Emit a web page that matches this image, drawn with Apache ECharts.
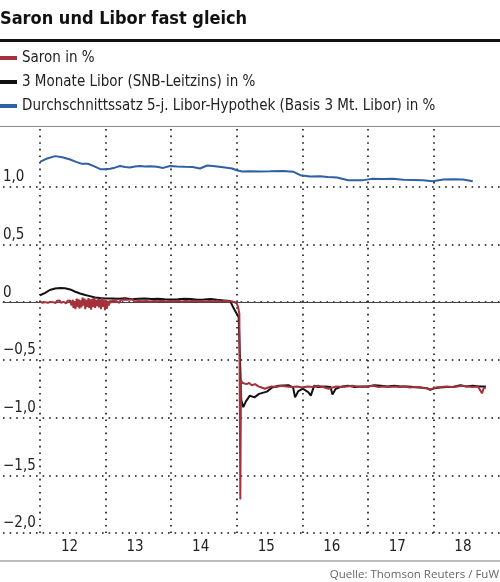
<!DOCTYPE html>
<html><head><meta charset="utf-8">
<script src="https://cdn.jsdelivr.net/npm/echarts@6/dist/echarts.min.js"></script>
<style>html,body{margin:0;padding:0;background:#fff}#c{width:500px;height:582px}</style>
</head><body><div id="c"></div>
<script>
const titleText = 'Saron und Libor fast gleich';
const sourceText = 'Quelle: Thomson Reuters / FuW';
const seriesNames = ['Saron in %', '3 Monate Libor (SNB-Leitzins) in %', 'Durchschnittssatz 5-j. Libor-Hypothek (Basis 3 Mt. Libor) in %'];
const yTicks = [1.0, 0.5, 0, -0.5, -1.0, -1.5, -2.0];
const xLabelYears = [2012, 2013, 2014, 2015, 2016, 2017, 2018];

// [decimal year, %]
const hypothek = [
 [2012.00,1.215],[2012.11,1.245],[2012.23,1.265],[2012.34,1.255],[2012.46,1.236],[2012.55,1.215],
 [2012.64,1.198],[2012.73,1.199],[2012.82,1.178],[2012.92,1.152],[2012.99,1.152],[2013.07,1.155],
 [2013.14,1.165],[2013.22,1.180],[2013.30,1.170],[2013.37,1.167],[2013.45,1.175],[2013.53,1.180],
 [2013.60,1.175],[2013.68,1.178],[2013.78,1.172],[2013.88,1.163],[2013.98,1.180],[2014.09,1.176],
 [2014.21,1.172],[2014.33,1.170],[2014.44,1.158],[2014.55,1.184],[2014.67,1.178],[2014.82,1.167],
 [2014.93,1.158],[2015.00,1.143],[2015.08,1.132],[2015.20,1.135],[2015.36,1.132],[2015.51,1.133],
 [2015.71,1.137],[2015.86,1.130],[2015.97,1.100],[2016.12,1.088],[2016.27,1.090],[2016.39,1.084],
 [2016.53,1.080],[2016.70,1.056],[2016.82,1.056],[2016.93,1.057],[2017.06,1.068],[2017.23,1.067],
 [2017.38,1.068],[2017.54,1.060],[2017.69,1.058],[2017.84,1.056],[2017.99,1.048],[2018.15,1.062],
 [2018.30,1.064],[2018.45,1.062],[2018.60,1.048]
];

const libor = [
 [2012.00,0.060],[2012.08,0.080],[2012.15,0.105],[2012.23,0.118],[2012.31,0.122],[2012.38,0.120],
 [2012.46,0.110],[2012.53,0.092],[2012.61,0.075],[2012.69,0.062],[2012.76,0.052],[2012.84,0.040],
 [2012.92,0.035],[2012.99,0.032],[2013.10,0.032],[2013.20,0.030],[2013.30,0.033],[2013.40,0.025],
 [2013.50,0.030],[2013.60,0.032],[2013.70,0.028],[2013.80,0.030],[2013.90,0.025],[2014.00,0.022],
 [2014.10,0.025],[2014.20,0.030],[2014.30,0.028],[2014.40,0.020],[2014.50,0.022],[2014.60,0.028],
 [2014.70,0.020],[2014.80,0.015],[2014.90,0.010],[2014.96,-0.060],[2015.00,-0.100],[2015.03,-0.130],
 [2015.05,-0.500],[2015.07,-0.850],[2015.10,-0.910],[2015.14,-0.860],[2015.20,-0.810],[2015.27,-0.825],
 [2015.34,-0.795],[2015.46,-0.775],[2015.54,-0.740],[2015.64,-0.725],[2015.79,-0.720],[2015.86,-0.740],
 [2015.89,-0.825],[2015.94,-0.770],[2016.01,-0.750],[2016.09,-0.780],[2016.13,-0.810],[2016.18,-0.725],
 [2016.24,-0.735],[2016.34,-0.730],[2016.43,-0.735],[2016.46,-0.800],[2016.51,-0.750],[2016.61,-0.730],
 [2016.70,-0.725],[2016.80,-0.735],[2016.90,-0.730],[2017.00,-0.730],[2017.10,-0.720],[2017.20,-0.725],
 [2017.30,-0.730],[2017.40,-0.725],[2017.50,-0.730],[2017.60,-0.730],[2017.70,-0.735],[2017.80,-0.740],
 [2017.90,-0.745],[2017.95,-0.760],[2018.02,-0.745],[2018.10,-0.740],[2018.20,-0.735],[2018.30,-0.735],
 [2018.41,-0.720],[2018.50,-0.730],[2018.60,-0.725],[2018.70,-0.730],[2018.80,-0.730]
];

const saron = [
 [2012.00,0.005],[2012.02,0.015],[2012.04,-0.005],[2012.06,0.010],[2012.08,0.000],[2012.10,0.015],
 [2012.12,-0.005],[2012.14,0.012],[2012.16,0.002],[2012.18,0.018],[2012.20,0.000],[2012.22,0.010],
 [2012.24,-0.008],[2012.26,0.012],[2012.28,0.000],[2012.30,0.015],[2012.32,-0.005],[2012.34,0.010],
 [2012.36,0.002],[2012.38,0.018],[2012.40,-0.010],[2012.42,0.012],[2012.44,-0.005],[2012.46,0.015],
 [2012.48,-0.030],[2012.50,0.020],[2012.51,-0.050],[2012.53,0.010],[2012.54,-0.060],[2012.56,0.030],
 [2012.57,-0.040],[2012.59,0.025],[2012.60,-0.055],[2012.62,0.015],[2012.63,-0.045],[2012.65,0.040],
 [2012.66,-0.030],[2012.68,0.030],[2012.69,-0.060],[2012.71,0.020],[2012.72,-0.040],[2012.74,0.035],
 [2012.75,-0.050],[2012.77,0.025],[2012.78,-0.065],[2012.80,0.030],[2012.81,-0.040],[2012.83,0.040],
 [2012.84,-0.050],[2012.86,0.020],[2012.87,-0.035],[2012.89,0.030],[2012.90,-0.045],[2012.92,0.025],
 [2012.93,-0.060],[2012.95,0.035],[2012.96,-0.040],[2012.98,0.020],[2012.99,-0.070],[2013.01,0.015],
 [2013.02,-0.055],[2013.04,0.010],[2013.05,-0.030],[2013.07,0.015],[2013.09,-0.005],[2013.11,0.020],
 [2013.13,0.000],[2013.15,0.025],[2013.17,0.005],[2013.19,0.020],[2013.21,-0.005],[2013.23,0.018],
 [2013.26,0.008],[2013.29,0.022],[2013.32,0.005],[2013.35,0.020],[2013.38,0.010],[2013.41,0.025],
 [2013.44,0.005],[2013.47,0.020],[2013.50,0.010],[2013.53,0.022],[2013.56,0.008],[2013.59,0.025],
 [2013.62,0.010],[2013.65,0.020],[2013.68,0.005],[2013.71,0.022],[2013.74,0.010],[2013.77,0.025],
 [2013.80,0.008],[2013.83,0.018],[2013.86,0.012],[2013.89,0.025],[2013.92,0.005],[2013.95,0.020],
 [2013.98,0.010],[2014.01,0.022],[2014.04,0.008],[2014.07,0.020],[2014.10,0.012],[2014.13,0.025],
 [2014.16,0.005],[2014.19,0.018],[2014.22,0.010],[2014.25,0.022],[2014.28,0.008],[2014.31,0.020],
 [2014.34,0.012],[2014.37,0.025],[2014.40,0.008],[2014.43,0.020],[2014.46,0.010],[2014.49,0.022],
 [2014.52,0.005],[2014.55,0.018],[2014.58,0.010],[2014.61,0.025],[2014.64,0.008],[2014.67,0.020],
 [2014.70,0.012],[2014.73,0.022],[2014.76,0.005],[2014.79,0.018],[2014.82,0.010],[2014.85,0.020],
 [2014.88,0.008],[2014.91,0.015],[2014.94,0.005],[2014.97,0.010],[2015.00,-0.010],[2015.02,-0.040],
 [2015.04,-0.100],[2015.055,-1.710],[2015.065,-0.680],[2015.09,-0.700],
 [2015.12,-0.690],[2015.15,-0.710],[2015.19,-0.700],[2015.23,-0.720],[2015.28,-0.710],[2015.33,-0.730],
 [2015.38,-0.740],[2015.43,-0.750],[2015.48,-0.740],[2015.53,-0.730],[2015.60,-0.735],[2015.68,-0.725],
 [2015.76,-0.730],[2015.84,-0.735],[2015.92,-0.730],[2016.00,-0.740],[2016.08,-0.730],[2016.16,-0.735],
 [2016.24,-0.725],[2016.32,-0.735],[2016.40,-0.750],[2016.46,-0.740],[2016.52,-0.730],[2016.60,-0.735],
 [2016.68,-0.730],[2016.76,-0.725],[2016.84,-0.730],[2016.92,-0.735],[2017.00,-0.730],[2017.08,-0.725],
 [2017.16,-0.735],[2017.24,-0.730],[2017.32,-0.735],[2017.40,-0.730],[2017.48,-0.735],[2017.56,-0.730],
 [2017.64,-0.740],[2017.72,-0.735],[2017.80,-0.740],[2017.88,-0.745],[2017.96,-0.755],[2018.04,-0.740],
 [2018.12,-0.735],[2018.20,-0.730],[2018.28,-0.735],[2018.36,-0.730],[2018.44,-0.725],[2018.52,-0.730],
 [2018.60,-0.735],[2018.68,-0.730],[2018.74,-0.790],[2018.77,-0.740],[2018.80,-0.745]
];

const COND = '"Liberation Sans Narrow", "DejaVu Sans Condensed", sans-serif';
const RED = '#a5313c', BLACK = '#111111', BLUE = '#2f5fa5';
const dotted = { color: '#111', width: 1.6, type: [1.6, 5], cap: 'butt' };

function fmtY(v) {
  if (Math.abs(v) < 1e-9) return '0';
  return (v < 0 ? '\u2212' : '') + Math.abs(v).toFixed(1).replace('.', ',');
}

const chart = echarts.init(document.getElementById('c'), null, { renderer: 'canvas' });
chart.setOption({
  animation: false,
  backgroundColor: '#fff',
  title: {
    text: titleText, left: 0, top: 10, padding: 0,
    textStyle: { fontFamily: COND, fontWeight: 'bold', fontSize: 18, color: '#111' }
  },
  legend: {
    data: seriesNames, orient: 'vertical', left: 0, top: 50, padding: 0,
    itemWidth: 17, itemHeight: 4, itemGap: 8, icon: 'rect',
    textStyle: { fontFamily: COND, fontSize: 15, lineHeight: 16, color: '#222' }
  },
  grid: [
    { left: 40, right: 1, top: 129, bottom: 49 },
    { left: 0, right: 0, top: 129, bottom: 49 }
  ],
  xAxis: [
    {
      type: 'value', gridIndex: 0, min: 2012, max: 2019, interval: 1,
      axisLine: { show: false }, axisTick: { show: false },
      splitLine: { show: true, showMaxLine: false, lineStyle: dotted },
      axisLabel: {
        customValues: xLabelYears.map(y => y + 0.45),
        formatter: v => String(Math.floor(v + 0.001)).slice(2),
        fontFamily: COND, fontSize: 15, color: '#222', margin: 7
      }
    },
    {
      type: 'value', gridIndex: 1, min: 0, max: 1,
      axisLine: { show: true, onZero: true, lineStyle: { color: '#444', width: 1 } },
      axisTick: { show: false }, axisLabel: { show: false }, splitLine: { show: false }
    }
  ],
  yAxis: [
    {
      type: 'value', gridIndex: 0, min: -2, max: 1.5, interval: 0.5,
      axisLine: { show: false }, axisTick: { show: false }, axisLabel: { show: false },
      splitLine: { show: false }
    },
    {
      type: 'value', gridIndex: 1, min: -2, max: 1.5, interval: 0.5,
      axisLine: { show: false }, axisTick: { show: false },
      splitLine: { show: true, showMaxLine: false, lineStyle: dotted },
      axisLabel: {
        inside: true, margin: 0, showMaxLabel: false,
        formatter: v => (yTicks.some(t => Math.abs(t - v) < 1e-9) ? fmtY(v) : ''),
        fontFamily: COND, fontSize: 15, color: '#222', verticalAlign: 'bottom', align: 'left',
        padding: [0, 0, 2, 0]
      }
    }
  ],
  series: [
    { name: seriesNames[2], type: 'line', xAxisIndex: 0, yAxisIndex: 0, data: hypothek,
      showSymbol: false, symbol: 'none', color: BLUE, lineStyle: { color: BLUE, width: 2 }, z: 3 },
    { name: seriesNames[1], type: 'line', xAxisIndex: 0, yAxisIndex: 0, data: libor,
      showSymbol: false, symbol: 'none', color: BLACK, lineStyle: { color: BLACK, width: 2 }, z: 4 },
    { name: seriesNames[0], type: 'line', xAxisIndex: 0, yAxisIndex: 0, data: saron,
      showSymbol: false, symbol: 'none', color: RED, lineStyle: { color: RED, width: 2 }, z: 5 }
  ],
  graphic: [
    { type: 'rect', left: 0, top: 39, shape: { width: 500, height: 3 }, style: { fill: '#111' }, silent: true },
    { type: 'rect', left: 0, top: 126, shape: { width: 500, height: 1 }, style: { fill: '#8a8a8a' }, silent: true },
    { type: 'rect', left: 0, top: 560, shape: { width: 500, height: 2 }, style: { fill: '#bdbdbd' }, silent: true },
    { type: 'text', right: 1, top: 569, silent: true,
      style: { text: sourceText, fontFamily: '"Open Sans", sans-serif', fontSize: 11.5, fill: '#666' } }
  ]
});
</script>
</body></html>
